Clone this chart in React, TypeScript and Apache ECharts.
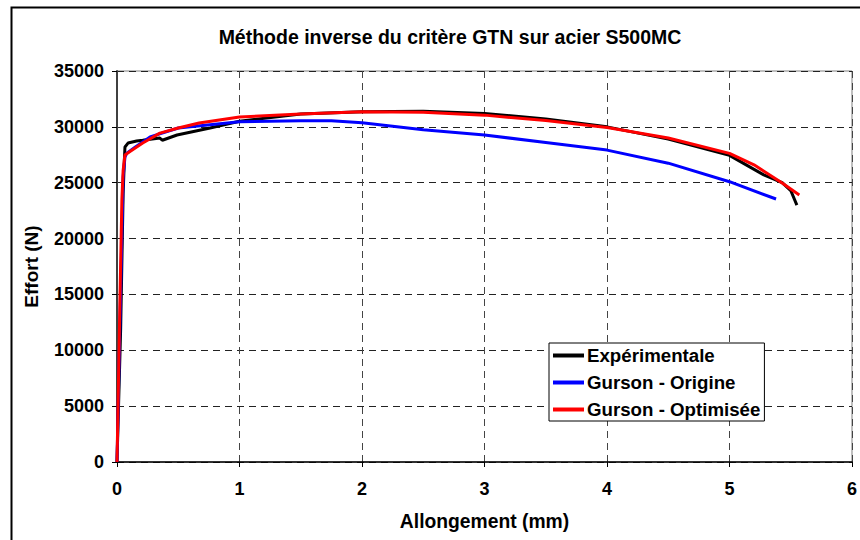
import React, { useEffect, useRef } from "react";
import * as echarts from "echarts";

const titleText = "Méthode inverse du critère GTN sur acier S500MC";
const xAxisName = "Allongement (mm)";
const yAxisName = "Effort (N)";
const seriesNames = ["Expérimentale", "Gurson - Origine", "Gurson - Optimisée"];

const experimentale: [number, number][] = [
  [0, 0], [0.03, 12000], [0.05, 24000], [0.06, 27000], [0.065, 28200], [0.09, 28550],
  [0.16, 28730], [0.21, 28800], [0.35, 29000], [0.37, 28800], [0.49, 29270],
  [0.76, 29890], [1.0, 30500], [1.5, 31150], [2.0, 31350], [2.5, 31400],
  [3.0, 31200], [3.5, 30700], [4.0, 30000], [4.5, 28900], [5.0, 27450],
  [5.28, 25700], [5.43, 25000], [5.5, 24300], [5.55, 23000],
];

const gursonOrigine: [number, number][] = [
  [0, 0], [0.025, 13000], [0.05, 25500], [0.065, 27300], [0.08, 27650],
  [0.15, 28200], [0.27, 29100], [0.5, 29900], [1.0, 30450], [1.5, 30550],
  [1.75, 30550], [2.0, 30370], [2.5, 29750], [3.0, 29270], [3.5, 28600],
  [4.0, 27920], [4.5, 26750], [5.0, 25090], [5.38, 23540],
];

const gursonOptimisee: [number, number][] = [
  [0, 0], [0.024, 14500], [0.04, 23500], [0.05, 26100], [0.065, 27480],
  [0.1, 27750], [0.21, 28550], [0.35, 29440], [0.5, 29900], [0.67, 30340],
  [1.0, 30880], [1.5, 31150], [2.0, 31350], [2.5, 31300], [3.0, 31050],
  [3.5, 30560], [4.0, 29950], [4.5, 29000], [5.0, 27630], [5.2, 26600],
  [5.43, 24970], [5.57, 23900],
];

const seriesColors = ["#000000", "#0000FF", "#FF0000"];

const FONT = "'Liberation Sans', Arial, sans-serif";

export default function App() {
  const ref = useRef<HTMLDivElement>(null);
  useEffect(() => {
    if (!ref.current) return;
    const chart = echarts.init(ref.current, undefined, { renderer: "svg" });
    const datasets = [experimentale, gursonOrigine, gursonOptimisee];
    chart.setOption({
      animation: false,
      backgroundColor: "#ffffff",
      title: {
        text: titleText,
        left: 445,
        textAlign: "center",
        top: 22,
        textStyle: { fontFamily: FONT, fontSize: 19.5, fontWeight: "bold", color: "#000" },
      },
      grid: {
        left: 117,
        right: 5,
        top: 71,
        bottom: 78,
        show: true,
        borderColor: "#808080",
        borderWidth: 1,
        backgroundColor: "transparent",
      },
      legend: {
        orient: "vertical",
        left: 549,
        top: 343,
        padding: [3, 4, 2, 4],
        itemGap: 8,
        itemWidth: 31,
        itemHeight: 4,
        icon: "rect",
        backgroundColor: "#ffffff",
        borderColor: "#000000",
        borderWidth: 1,
        textStyle: { fontFamily: FONT, fontSize: 18.7, fontWeight: "bold", color: "#000", padding: [0, 0, 0, -2] },
        data: seriesNames,
      },
      xAxis: {
        type: "value",
        min: 0,
        max: 6,
        interval: 1,
        name: xAxisName,
        nameLocation: "middle",
        nameGap: 50,
        nameTextStyle: { fontFamily: FONT, fontSize: 19.3, fontWeight: "bold", color: "#000" },
        axisLine: { show: true, lineStyle: { color: "#000", width: 1.5 } },
        axisTick: { show: true, length: 5, lineStyle: { color: "#000" } },
        axisLabel: { margin: 18, fontFamily: FONT, fontSize: 18, fontWeight: "bold", color: "#000" },
        splitLine: { show: true, lineStyle: { color: "#444", type: [7, 5], width: 1 } },
      },
      yAxis: {
        type: "value",
        min: 0,
        max: 35000,
        interval: 5000,
        name: yAxisName,
        nameLocation: "middle",
        nameGap: 76,
        nameTextStyle: { fontFamily: FONT, fontSize: 19, fontWeight: "bold", color: "#000" },
        axisLine: { show: true, lineStyle: { color: "#404040", width: 2 } },
        axisTick: { show: true, length: 5, lineStyle: { color: "#000" } },
        axisLabel: {
          margin: 13,
          fontFamily: FONT,
          fontSize: 18,
          fontWeight: "bold",
          color: "#000",
          formatter: (v: number) => String(v),
        },
        splitLine: { show: true, lineStyle: { color: "#222", type: [7, 5], width: 1 } },
      },
      graphic: [
        {
          type: "rect",
          left: 9,
          top: 5,
          shape: { width: 870, height: 560 },
          style: { fill: "none", stroke: "#000", lineWidth: 2 },
          silent: true,
          z: 100,
        },
      ],
      series: datasets.map((d, i) => ({
        name: seriesNames[i],
        type: "line",
        data: d,
        showSymbol: false,
        symbol: "none",
        smooth: false,
        lineStyle: { color: seriesColors[i], width: 3 },
        itemStyle: { color: seriesColors[i] },
      })),
    });
    return () => chart.dispose();
  }, []);
  return (
    <div
      ref={ref}
      style={{ position: "absolute", left: 0, top: 0, width: 860, height: 540 }}
    />
  );
}
